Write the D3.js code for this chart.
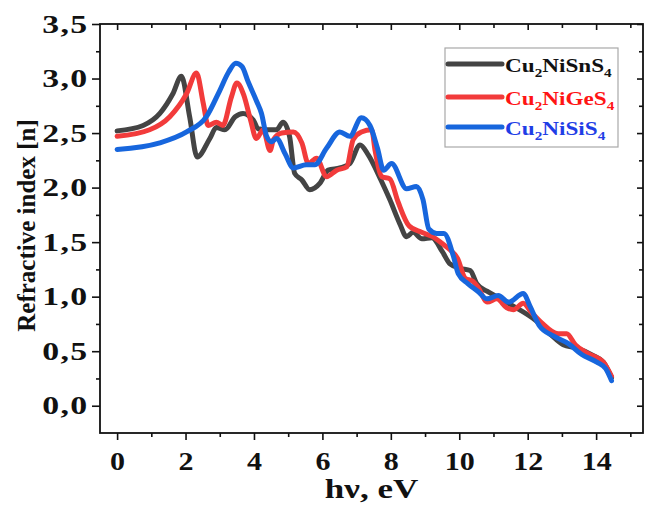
<!DOCTYPE html>
<html>
<head>
<meta charset="utf-8">
<script src="https://cdn.jsdelivr.net/npm/d3@7.9.0/dist/d3.min.js"></script>
<style>
  body { margin: 0; background: #fff; }
  text { font-family: "Liberation Serif", "Times New Roman", serif; font-weight: bold; }
</style>
</head>
<body>
<svg id="chart" width="646" height="505"></svg>
<script>
// photon energy (eV) and refractive index
const snEnergy = [0, 0.76, 1.25, 1.63, 1.88, 2.12, 2.34, 2.71, 2.90, 3.15, 3.45, 3.68, 3.98, 4.12, 4.37, 4.66, 4.85, 5.04, 5.19, 5.40, 5.63, 5.93, 6.17, 6.51, 6.80, 7.10, 7.34, 7.71, 7.97, 8.26, 8.46, 8.65, 8.91, 9.20, 9.51, 9.73, 10.02, 10.32, 10.51, 10.81, 11.10, 11.54, 12.24, 12.65, 13.04, 13.41, 13.92, 14.21, 14.45];
const snIndex  = [2.52, 2.57, 2.68, 2.86, 3.02, 2.65, 2.28, 2.45, 2.55, 2.53, 2.65, 2.68, 2.62, 2.54, 2.53, 2.53, 2.60, 2.47, 2.13, 2.07, 1.98, 2.04, 2.16, 2.18, 2.22, 2.39, 2.30, 2.07, 1.89, 1.67, 1.55, 1.59, 1.53, 1.54, 1.41, 1.30, 1.26, 1.24, 1.12, 1.05, 1.00, 0.92, 0.78, 0.66, 0.56, 0.53, 0.46, 0.40, 0.26];

const geEnergy = [0, 0.95, 1.54, 2.03, 2.32, 2.52, 2.66, 2.90, 3.09, 3.34, 3.50, 3.70, 3.90, 4.07, 4.27, 4.47, 4.57, 4.81, 5.15, 5.40, 5.59, 5.83, 6.12, 6.42, 6.71, 6.90, 7.14, 7.44, 7.54, 7.74, 7.97, 8.21, 8.53, 8.90, 9.22, 9.49, 9.73, 9.95, 10.17, 10.40, 10.54, 10.82, 11.10, 11.38, 11.58, 11.87, 12.10, 12.41, 12.89, 13.14, 13.39, 13.76, 14.21, 14.45];
const geIndex  = [2.47, 2.53, 2.65, 2.86, 3.05, 2.77, 2.57, 2.60, 2.57, 2.83, 2.96, 2.85, 2.62, 2.45, 2.53, 2.34, 2.44, 2.50, 2.51, 2.41, 2.22, 2.27, 2.10, 2.16, 2.19, 2.44, 2.51, 2.53, 2.34, 2.10, 2.08, 1.87, 1.65, 1.59, 1.55, 1.49, 1.43, 1.35, 1.17, 1.14, 1.09, 0.95, 0.98, 0.90, 0.88, 0.94, 0.86, 0.76, 0.66, 0.66, 0.56, 0.48, 0.40, 0.27];

const siEnergy = [0, 1.25, 2.03, 2.61, 3.00, 3.26, 3.47, 3.65, 3.83, 4.08, 4.22, 4.37, 4.51, 4.66, 4.91, 5.15, 5.53, 5.78, 6.12, 6.51, 6.80, 7.14, 7.39, 7.61, 7.79, 8.02, 8.46, 8.75, 8.94, 9.11, 9.34, 9.55, 9.83, 9.97, 10.25, 10.54, 10.81, 11.14, 11.44, 11.87, 12.07, 12.35, 12.75, 13.19, 13.58, 14.02, 14.28, 14.45];
const siIndex  = [2.35, 2.41, 2.51, 2.65, 2.89, 3.06, 3.14, 3.11, 2.97, 2.79, 2.68, 2.47, 2.42, 2.45, 2.31, 2.18, 2.21, 2.21, 2.36, 2.51, 2.47, 2.64, 2.57, 2.36, 2.16, 2.22, 1.99, 2.01, 1.89, 1.62, 1.58, 1.58, 1.37, 1.21, 1.12, 1.05, 0.98, 1.01, 0.95, 1.03, 0.91, 0.73, 0.64, 0.57, 0.47, 0.40, 0.34, 0.23];

const xTicks = [0, 2, 4, 6, 8, 10, 12, 14];
const xMinor = [1, 3, 5, 7, 9, 11, 13, 15];
const yTicks = [0, 0.5, 1.0, 1.5, 2.0, 2.5, 3.0, 3.5];
const yMinor = [0.25, 0.75, 1.25, 1.75, 2.25, 2.75, 3.25];

const series = [
  { name: ["Cu", "2", "NiSnS", "4"], x: snEnergy, y: snIndex, line: "#444444", text: "#111111" },
  { name: ["Cu", "2", "NiGeS", "4"], x: geEnergy, y: geIndex, line: "#f23b3b", text: "#ff1414" },
  { name: ["Cu", "2", "NiSiS", "4"], x: siEnergy, y: siIndex, line: "#1766dd", text: "#1f3ee6" },
];

const svg = d3.select("#chart");
const plotL = 100, plotR = 643, plotT = 24, plotB = 433;
const stretch = 1.2; // the source figure's text is wider than it is tall

const x = d3.scaleLinear().domain([-0.5, 15.37]).range([plotL, plotR]);
const y = d3.scaleLinear().domain([-0.25, 3.5]).range([plotB, plotT]);

const comma = d => d.toFixed(1).replace(".", ",");

// bottom + left axes with labels, ticks pointing out
const gx = svg.append("g").attr("transform", `translate(0,${plotB})`)
  .call(d3.axisBottom(x).tickValues(xTicks).tickSize(7).tickPadding(12).tickFormat(d3.format("d")));
svg.append("g").attr("transform", `translate(0,${plotB})`)
  .call(d3.axisBottom(x).tickValues(xMinor).tickSize(4).tickFormat(""));
const gy = svg.append("g").attr("transform", `translate(${plotL},0)`)
  .call(d3.axisLeft(y).tickValues(yTicks).tickSize(8).tickFormat(comma));
svg.append("g").attr("transform", `translate(${plotL},0)`)
  .call(d3.axisLeft(y).tickValues(yMinor).tickSize(4).tickFormat(""));

// top + right mirror ticks, pointing in
svg.append("g").attr("transform", `translate(0,${plotT})`)
  .call(d3.axisBottom(x).tickValues(xTicks).tickSize(6).tickFormat(""));
svg.append("g").attr("transform", `translate(0,${plotT})`)
  .call(d3.axisBottom(x).tickValues(xMinor).tickSize(4).tickFormat(""));
svg.append("g").attr("transform", `translate(${plotR},0)`)
  .call(d3.axisLeft(y).tickValues(yTicks).tickSize(6).tickFormat(""));
svg.append("g").attr("transform", `translate(${plotR},0)`)
  .call(d3.axisLeft(y).tickValues(yMinor).tickSize(4).tickFormat(""));

svg.selectAll(".domain").remove();
svg.selectAll(".tick line").attr("stroke", "#111").attr("stroke-width", 1.6);
gx.selectAll(".tick text").attr("fill", "#111").style("font-size", "25px")
  .attr("transform", `scale(${stretch},1)`);
gy.selectAll(".tick text").attr("fill", "#111").style("font-size", "25px")
  .attr("transform", "scale(1.35,1)")
  .attr("x", -8.5).style("letter-spacing", "1px");

svg.append("rect")
  .attr("x", plotL).attr("y", plotT).attr("width", plotR - plotL).attr("height", plotB - plotT)
  .attr("fill", "none").attr("stroke", "#111").attr("stroke-width", 1.8);

// curves
const line = d3.line().curve(d3.curveMonotoneX);
series.forEach(s => {
  const pts = s.x.map((v, i) => [x(v), y(s.y[i])]);
  svg.append("path")
    .attr("d", line(pts))
    .attr("fill", "none")
    .attr("stroke", s.line)
    .attr("stroke-width", 5)
    .attr("stroke-linejoin", "round")
    .attr("stroke-linecap", "round");
});

// axis titles
svg.append("text")
  .attr("transform", `translate(${(plotL + plotR) / 2},498) scale(1.25,1)`)
  .attr("text-anchor", "middle")
  .style("font-size", "28px").attr("fill", "#111")
  .text("hν, eV");

svg.append("text")
  .attr("transform", `translate(35,${(plotT + plotB) / 2 - 3}) rotate(-90)`)
  .attr("text-anchor", "middle")
  .style("font-size", "25px").attr("fill", "#111")
  .text("Refractive index [n]");

// legend
const legend = svg.append("g");
legend.append("rect")
  .attr("x", 445).attr("y", 48).attr("width", 173).attr("height", 99)
  .attr("fill", "#fff").attr("stroke", "#a8a8a8").attr("stroke-width", 1.2);

const rows = [64, 97, 127];
series.forEach((s, i) => {
  legend.append("line")
    .attr("x1", 448).attr("x2", 502).attr("y1", rows[i]).attr("y2", rows[i])
    .attr("stroke", s.line).attr("stroke-width", 5).attr("stroke-linecap", "round");
  const t = legend.append("text")
    .attr("transform", `translate(505,${rows[i] + 8}) scale(${stretch + 0.02},1)`)
    .attr("fill", s.text).style("font-size", "19px");
  t.append("tspan").text(s.name[0]);
  t.append("tspan").attr("dy", 5).style("font-size", "12.5px").text(s.name[1]);
  t.append("tspan").attr("dy", -5).text(s.name[2]);
  t.append("tspan").attr("dy", 5).style("font-size", "12.5px").text(s.name[3]);
});
</script>
</body>
</html>
